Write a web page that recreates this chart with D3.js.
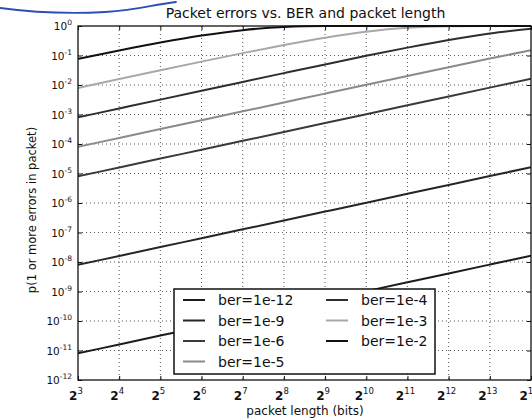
<!DOCTYPE html>
<html>
<head>
<meta charset="utf-8">
<script src="https://cdn.jsdelivr.net/npm/d3@7"></script>
<style>
  html, body { margin: 0; padding: 0; background: #ffffff; }
  svg { display: block; font-family: "DejaVu Sans", sans-serif; }
</style>
</head>
<body>
<svg id="chart" width="532" height="420"></svg>
<script>
// Packet lengths in bits (powers of two, 2^3 .. 2^14)
const exponents = [3, 4, 5, 6, 7, 8, 9, 10, 11, 12, 13, 14];
const lengths = [8, 16, 32, 64, 128, 256, 512, 1024, 2048, 4096, 8192, 16384];

// y decades shown on the axis
const yDecades = [0, -1, -2, -3, -4, -5, -6, -7, -8, -9, -10, -11, -12];

// probability of at least one bit error in the packet, per bit error rate
const ber1e12 = [8.0e-12, 1.6e-11, 3.2e-11, 6.4e-11, 1.28e-10, 2.56e-10, 5.12e-10, 1.024e-9, 2.048e-9, 4.096e-9, 8.192e-9, 1.6384e-8];
const ber1e9  = [8.0e-9, 1.6e-8, 3.2e-8, 6.4e-8, 1.28e-7, 2.56e-7, 5.12e-7, 1.024e-6, 2.048e-6, 4.096e-6, 8.192e-6, 1.638e-5];
const ber1e6  = [8.0e-6, 1.6e-5, 3.2e-5, 6.4e-5, 1.28e-4, 2.56e-4, 5.119e-4, 1.0235e-3, 2.0459e-3, 4.0876e-3, 8.1586e-3, 1.6251e-2];
const ber1e5  = [8.0e-5, 1.6e-4, 3.2e-4, 6.398e-4, 1.2792e-3, 2.5567e-3, 5.107e-3, 1.0188e-2, 2.0271e-2, 4.0131e-2, 7.8651e-2, 0.15112];
const ber1e4  = [7.997e-4, 1.5988e-3, 3.195e-3, 6.38e-3, 1.272e-2, 2.528e-2, 4.991e-2, 9.734e-2, 0.18518, 0.33607, 0.55919, 0.80569];
const ber1e3  = [7.972e-3, 1.588e-2, 3.151e-2, 6.203e-2, 0.1202, 0.2259, 0.4008, 0.641, 0.8711, 0.9834, 0.999725, 0.99999992];
const ber1e2  = [7.726e-2, 0.1485, 0.2751, 0.4744, 0.7238, 0.9237, 0.99418, 0.999966, 0.999999999, 1, 1, 1];

const seriesNames = ["ber=1e-12", "ber=1e-9", "ber=1e-6", "ber=1e-5", "ber=1e-4", "ber=1e-3", "ber=1e-2"];
const seriesValues = [ber1e12, ber1e9, ber1e6, ber1e5, ber1e4, ber1e3, ber1e2];
const seriesColors = ["#1c1c1c", "#262626", "#3a3a3a", "#8a8a8a", "#2e2e2e", "#a8a8a8", "#111111"];

const svg = d3.select("#chart");
const W = 532, H = 420;
const plot = { left: 78, right: 531, top: 26, bottom: 380 };

const x = d3.scaleLog().base(2).domain([8, 16384]).range([plot.left, plot.right]);
const y = d3.scaleLog().base(10).domain([1e-12, 1]).range([plot.bottom, plot.top]);

svg.append("rect").attr("width", W).attr("height", H).attr("fill", "#ffffff");

// pen stroke across the top of the sheet
svg.append("path")
  .attr("d", "M0,8 C30,12 70,14 105,12 S150,5 176,2")
  .attr("fill", "none")
  .attr("stroke", "#2a4fb5")
  .attr("stroke-width", 1.8)
  .attr("stroke-linecap", "round");

const defs = svg.append("defs");
defs.append("clipPath").attr("id", "plotClip")
  .append("rect")
  .attr("x", plot.left).attr("y", plot.top - 1)
  .attr("width", plot.right - plot.left).attr("height", plot.bottom - plot.top + 2);

// dotted grid
const grid = svg.append("g").attr("stroke", "#444").attr("stroke-width", 0.9).attr("stroke-dasharray", "1,3");
grid.selectAll("line.vx").data(lengths.slice(1, -1)).join("line")
  .attr("x1", d => x(d)).attr("x2", d => x(d))
  .attr("y1", plot.top).attr("y2", plot.bottom);
grid.selectAll("line.hy").data(yDecades.slice(1, -1)).join("line")
  .attr("x1", plot.left).attr("x2", plot.right)
  .attr("y1", d => y(Math.pow(10, d))).attr("y2", d => y(Math.pow(10, d)));

// series lines
const line = d3.line()
  .x((d, i) => x(lengths[i]))
  .y(d => y(d))
  .curve(d3.curveMonotoneX);

const lines = svg.append("g").attr("clip-path", "url(#plotClip)");
seriesValues.forEach((vals, k) => {
  lines.append("path")
    .datum(vals)
    .attr("d", line)
    .attr("fill", "none")
    .attr("stroke", seriesColors[k])
    .attr("stroke-width", 2)
    .attr("stroke-linejoin", "round");
});

// axes: ticks inward on all four sides
const tickLen = 4;
const xAxisB = d3.axisBottom(x).tickValues(lengths).tickSize(-tickLen).tickFormat("");
const xAxisT = d3.axisTop(x).tickValues(lengths).tickSize(-tickLen).tickFormat("");
const yAxisL = d3.axisLeft(y).tickValues(yDecades.map(e => Math.pow(10, e))).tickSize(-tickLen).tickFormat("");
const yAxisR = d3.axisRight(y).tickValues(yDecades.map(e => Math.pow(10, e))).tickSize(-tickLen).tickFormat("");
[
  [xAxisB, `translate(0,${plot.bottom})`],
  [xAxisT, `translate(0,${plot.top})`],
  [yAxisL, `translate(${plot.left},0)`],
  [yAxisR, `translate(${plot.right},0)`]
].forEach(([ax, tr]) => {
  const g = svg.append("g").attr("transform", tr).call(ax);
  g.select(".domain").remove();
  g.selectAll(".tick line").attr("stroke", "#111").attr("stroke-width", 1);
});

// frame
svg.append("rect")
  .attr("x", plot.left).attr("y", plot.top)
  .attr("width", plot.right - plot.left).attr("height", plot.bottom - plot.top)
  .attr("fill", "none").attr("stroke", "#111").attr("stroke-width", 1.3);

// x tick labels: 2^n
const xl = svg.append("g").attr("fill", "#111");
exponents.forEach((e, i) => {
  const t = xl.append("text")
    .attr("x", x(lengths[i]) - 2)
    .attr("y", 400)
    .attr("text-anchor", "middle")
    .attr("font-size", 12)
    .attr("font-weight", "bold");
  t.append("tspan").text("2");
  t.append("tspan").attr("dy", -6).attr("font-size", 8.5).attr("font-weight", "normal").text(e);
});

// y tick labels: 10^n
const yl = svg.append("g").attr("fill", "#111");
yDecades.forEach(e => {
  const t = yl.append("text")
    .attr("x", 72)
    .attr("y", y(Math.pow(10, e)) + 4)
    .attr("text-anchor", "end")
    .attr("font-size", 10.5);
  t.append("tspan").text("10");
  t.append("tspan").attr("dy", -5).attr("font-size", 7.5).text(e);
});

// title and axis labels
svg.append("text")
  .attr("x", (plot.left + plot.right) / 2 + 1).attr("y", 18)
  .attr("text-anchor", "middle").attr("font-size", 14).attr("fill", "#111")
  .text("Packet errors vs. BER and packet length");

svg.append("text")
  .attr("x", 305).attr("y", 415)
  .attr("text-anchor", "middle").attr("font-size", 12).attr("fill", "#111")
  .text("packet length (bits)");

svg.append("text")
  .attr("transform", `translate(36,${(plot.top + plot.bottom) / 2 + 7}) rotate(-90)`)
  .attr("text-anchor", "middle").attr("font-size", 11.5).attr("fill", "#111")
  .text("p(1 or more errors in packet)");

// legend
const legend = svg.append("g");
legend.append("rect")
  .attr("x", 174).attr("y", 289).attr("width", 261).attr("height", 85)
  .attr("fill", "#ffffff").attr("stroke", "#111").attr("stroke-width", 1.5);

const rowY = [300, 320.5, 341, 361.5];
seriesNames.forEach((name, k) => {
  const col = k < 4 ? 0 : 1;
  const row = k < 4 ? k : k - 4;
  const lx = col === 0 ? 183 : 326;
  const ly = rowY[row];
  legend.append("line")
    .attr("x1", lx).attr("x2", lx + 22)
    .attr("y1", ly).attr("y2", ly)
    .attr("stroke", seriesColors[k]).attr("stroke-width", 2);
  legend.append("text")
    .attr("x", lx + 35).attr("y", ly + 5)
    .attr("font-size", 14).attr("fill", "#111")
    .text(name);
});
</script>
</body>
</html>
